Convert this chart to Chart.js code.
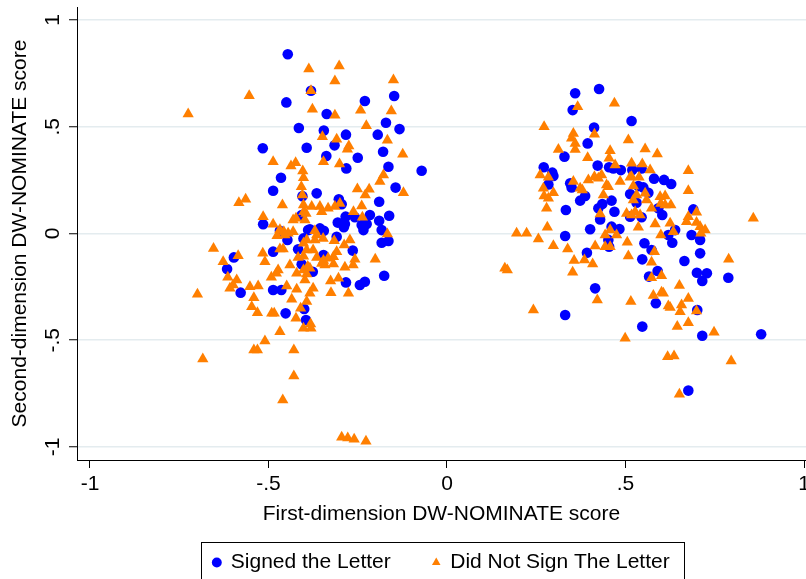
<!DOCTYPE html>
<html><head><meta charset="utf-8">
<script src="https://cdn.jsdelivr.net/npm/chart.js@4"></script>
<style>html,body{margin:0;padding:0;background:#fff}canvas{display:block}</style>
</head><body>
<canvas id="c" width="806" height="579"></canvas>
<script>
const xTickValues = [-1, -0.5, 0, 0.5, 1];
const xTickLabels = ['-1', '-.5', '0', '.5', '1'];
const yTickValues = [-1, -0.5, 0, 0.5, 1];
const yTickLabels = ['-1', '-.5', '0', '.5', '1'];
const seriesNames = ['Signed the Letter', 'Did Not Sign The Letter'];
const xTitle = 'First-dimension DW-NOMINATE score';
const yTitle = 'Second-dimension DW-NOMINATE score';

const signedX = [-0.446,-0.381,-0.450,-0.415,-0.516,-0.393,-0.465,-0.230,-0.148,-0.337,-0.171,-0.345,-0.283,-0.194,-0.133,-0.315,-0.179,-0.338,-0.250,-0.282,-0.164,-0.071,-0.487,-0.407,-0.515,-0.468,-0.447,-0.402,-0.389,-0.597,-0.487,-0.417,-0.616,-0.407,-0.578,-0.487,-0.464,-0.452,-0.400,-0.395,-0.144,-0.365,-0.405,-0.303,-0.295,-0.190,-0.284,-0.258,-0.216,-0.190,-0.162,-0.306,-0.286,-0.289,-0.239,-0.234,-0.225,-0.183,-0.384,-0.356,-0.345,-0.309,-0.183,-0.164,-0.264,-0.346,-0.376,-0.176,-0.283,-0.244,-0.230,
0.359,0.426,0.352,0.517,0.412,0.394,0.329,0.271,0.295,0.298,0.422,0.454,0.487,0.466,0.519,0.284,0.345,0.349,0.387,0.373,0.461,0.435,0.424,0.333,0.469,0.429,0.513,0.401,0.461,0.483,0.331,0.545,0.580,0.608,0.628,0.536,0.550,0.564,0.513,0.531,0.592,0.603,0.545,0.690,0.639,0.685,0.620,0.452,0.454,0.392,0.415,0.331,0.631,0.709,0.553,0.573,0.547,0.665,0.709,0.590,0.566,0.700,0.728,0.715,0.788,0.585,0.701,0.547,0.715,0.880,0.676];
const signedY = [0.840,0.669,0.614,0.494,0.399,0.402,0.261,0.621,0.644,0.560,0.519,0.482,0.463,0.463,0.489,0.413,0.383,0.363,0.355,0.305,0.313,0.294,0.200,0.087,0.043,0.013,-0.030,-0.023,0.016,-0.112,-0.085,-0.074,-0.166,-0.144,-0.277,-0.265,-0.265,-0.374,-0.354,-0.405,0.215,0.188,0.175,0.160,0.137,0.149,0.079,0.076,0.087,0.060,0.083,0.051,0.044,0.029,0.040,0.016,0.044,0.016,0.020,0.024,0.013,-0.015,-0.043,-0.035,-0.080,-0.101,-0.179,-0.198,-0.229,-0.241,-0.226,
0.657,0.677,0.578,0.527,0.496,0.422,0.360,0.310,0.285,0.269,0.318,0.310,0.297,0.305,0.297,0.230,0.235,0.216,0.176,0.154,0.154,0.138,0.118,0.110,0.102,0.066,0.079,0.020,0.032,0.021,-0.012,0.305,0.257,0.251,0.232,0.222,0.216,0.191,0.185,0.144,0.118,0.087,0.076,0.113,0.016,-0.007,-0.007,-0.030,-0.062,-0.090,-0.257,-0.382,-0.043,-0.030,-0.046,-0.077,-0.121,-0.129,-0.093,-0.176,-0.202,-0.184,-0.186,-0.222,-0.207,-0.327,-0.358,-0.436,-0.479,-0.472,-0.736];

const notSignedX = [-0.387,-0.554,-0.725,-0.487,-0.437,-0.424,-0.404,-0.402,-0.381,-0.377,-0.302,-0.314,-0.150,-0.314,-0.242,-0.156,-0.226,-0.349,-0.309,-0.167,-0.275,-0.279,-0.124,-0.346,-0.301,-0.178,-0.408,-0.405,-0.583,-0.564,-0.461,-0.402,-0.401,-0.515,-0.487,-0.431,-0.423,-0.398,-0.468,-0.457,-0.445,-0.476,-0.454,-0.431,-0.654,-0.585,-0.516,-0.468,-0.459,-0.402,-0.393,-0.627,-0.510,-0.417,-0.402,-0.440,-0.473,-0.478,-0.492,-0.421,-0.402,-0.390,-0.614,-0.589,-0.449,-0.398,-0.608,-0.599,-0.552,-0.529,-0.421,-0.699,-0.541,-0.435,-0.547,-0.393,-0.531,-0.491,-0.484,-0.410,-0.423,-0.382,-0.402,-0.381,-0.468,-0.510,-0.541,-0.531,-0.429,-0.684,-0.429,-0.460,-0.295,-0.278,-0.260,-0.227,-0.188,-0.122,-0.251,-0.218,-0.229,-0.300,-0.314,-0.239,-0.379,-0.356,-0.333,-0.351,-0.395,-0.262,-0.237,-0.167,-0.370,-0.365,-0.347,-0.370,-0.393,-0.316,-0.288,-0.272,-0.375,-0.309,-0.318,-0.333,-0.346,-0.365,-0.258,-0.263,-0.201,-0.286,-0.342,-0.318,-0.351,-0.384,-0.393,-0.326,-0.304,-0.325,-0.276,-0.375,-0.384,
0.366,0.469,0.272,0.413,0.354,0.349,0.359,0.359,0.508,0.312,0.394,0.457,0.454,0.471,0.517,0.261,0.284,0.270,0.272,0.298,0.284,0.279,0.354,0.373,0.379,0.396,0.413,0.424,0.433,0.447,0.452,0.485,0.517,0.438,0.429,0.503,0.281,0.195,0.223,0.256,0.443,0.457,0.475,0.555,0.589,0.547,0.569,0.676,0.513,0.538,0.522,0.676,0.531,0.555,0.522,0.559,0.597,0.611,0.599,0.611,0.627,0.573,0.527,0.541,0.517,0.699,0.676,0.671,0.858,0.583,0.625,0.536,0.699,0.709,0.723,0.634,0.711,0.599,0.298,0.338,0.415,0.443,0.457,0.505,0.356,0.385,0.408,0.508,0.162,0.169,0.352,0.421,0.515,0.242,0.499,0.581,0.573,0.789,0.601,0.573,0.651,0.578,0.601,0.606,0.620,0.625,0.676,0.657,0.653,0.699,0.645,0.676,0.748,0.618,0.636,0.796,0.651];
const notSignedY = [0.770,0.645,0.560,0.336,0.316,0.332,0.293,0.261,0.669,0.582,0.785,0.714,0.719,0.554,0.577,0.574,0.505,0.453,0.441,0.437,0.410,0.395,0.371,0.336,0.326,0.274,0.219,0.180,0.144,0.160,0.133,0.133,0.102,0.079,0.043,0.063,0.071,0.063,0.018,0.008,0.001,-0.011,-0.007,0.008,-0.070,-0.104,-0.093,-0.073,-0.073,-0.046,-0.077,-0.132,-0.132,-0.112,-0.106,-0.148,-0.171,-0.186,-0.205,-0.186,-0.171,-0.155,-0.205,-0.218,-0.246,-0.218,-0.257,-0.241,-0.249,-0.246,-0.261,-0.285,-0.301,-0.308,-0.343,-0.319,-0.371,-0.374,-0.374,-0.350,-0.397,-0.424,-0.444,-0.444,-0.460,-0.503,-0.546,-0.546,-0.546,-0.588,-0.667,-0.780,-0.955,-0.958,-0.964,-0.973,0.243,0.191,0.208,0.207,0.180,0.141,0.126,0.129,0.126,0.126,0.118,0.102,0.094,0.102,0.076,-0.002,0.013,-0.007,-0.023,-0.030,-0.030,-0.034,-0.054,-0.030,-0.077,-0.085,-0.109,-0.116,-0.127,-0.112,-0.121,-0.148,-0.121,-0.158,-0.148,-0.143,-0.140,-0.163,-0.190,-0.222,-0.210,-0.277,-0.280,-0.257,-0.280,
0.594,0.610,0.500,0.465,0.469,0.446,0.422,0.394,0.438,0.394,0.355,0.388,0.352,0.321,0.329,0.274,0.263,0.212,0.176,0.191,0.165,0.118,0.243,0.212,0.204,0.251,0.266,0.259,0.274,0.227,0.219,0.243,0.266,0.180,0.091,0.094,0.029,0.001,0.001,-0.026,-0.007,0.016,-0.007,0.396,0.372,0.326,0.297,0.294,0.263,0.263,0.222,0.200,0.180,0.188,0.157,0.157,0.172,0.176,0.141,0.133,0.133,0.118,0.102,0.087,0.087,0.099,0.079,0.055,0.071,0.044,0.048,0.029,0.051,0.032,0.016,0.008,0.001,-0.007,-0.057,-0.073,-0.058,-0.062,-0.062,-0.041,-0.127,-0.124,-0.143,-0.105,-0.163,-0.171,-0.182,-0.311,-0.319,-0.358,-0.491,-0.085,-0.135,-0.121,-0.198,-0.207,-0.244,-0.291,-0.275,-0.280,-0.340,-0.347,-0.304,-0.335,-0.366,-0.363,-0.436,-0.418,-0.463,-0.577,-0.574,-0.597,-0.753];

const xMin = -1.0364, xMax = 1.0056, yMin = -1.061, yMax = 1.061;
const toPoints = (xs, ys) => xs.map((x, i) => ({x: x, y: ys[i]}));

Chart.defaults.font.family = "'Liberation Sans', Arial, Helvetica, sans-serif";
Chart.defaults.font.size = 21;
Chart.defaults.color = '#000';

const legendFrame = {
  id: 'legendFrame',
  afterDraw(chart) {
    const lg = chart.legend;
    if (!lg || !lg.legendHitBoxes || !lg.legendHitBoxes.length) return;
    const hb = lg.legendHitBoxes;
    const first = hb[0], last = hb[hb.length - 1];
    const l = Math.round(first.left - 12) + 0.5;
    const r = Math.round(last.left + last.width + 14) + 0.5;
    const t = Math.round(first.top - 10) + 0.5;
    const b = Math.round(first.top + first.height + 7) + 0.5;
    const ctx = chart.ctx;
    ctx.save();
    ctx.strokeStyle = '#000';
    ctx.lineWidth = 1;
    ctx.strokeRect(l, t, r - l, b - t);
    ctx.restore();
  }
};

new Chart(document.getElementById('c'), {
  type: 'scatter',
  data: {
    datasets: [
      {
        label: seriesNames[0],
        data: toPoints(signedX, signedY),
        pointStyle: 'circle',
        pointRadius: 5.3,
        backgroundColor: '#0000FF',
        borderColor: '#0000FF',
        borderWidth: 0,
        order: 2
      },
      {
        label: seriesNames[1],
        data: toPoints(notSignedX, notSignedY),
        pointStyle: 'triangle',
        pointRadius: 6.5,
        backgroundColor: '#FF7F00',
        borderColor: '#FF7F00',
        borderWidth: 0,
        order: 1
      }
    ]
  },
  options: {
    responsive: false,
    devicePixelRatio: 1,
    animation: false,
    layout: { autoPadding: false, padding: { top: 7, left: 0, right: 0, bottom: 0 } },
    plugins: {
      tooltip: { enabled: false },
      legend: {
        position: 'bottom',
        fullSize: false,
        maxHeight: 69,
        labels: {
          usePointStyle: true,
          boxWidth: 7,
          boxHeight: 7,
          padding: 42,
          color: '#000',
          font: { size: 21 },
          sort: (a, b) => a.datasetIndex - b.datasetIndex
        }
      }
    },
    scales: {
      x: {
        type: 'linear',
        position: 'bottom',
        min: xMin,
        max: xMax,
        afterBuildTicks: s => { s.ticks = xTickValues.map(v => ({ value: v })); },
        afterFit: s => { s.height = 50; s.paddingLeft = 0; s.paddingRight = 0; },
        ticks: {
          callback: (v, i) => xTickLabels[i],
          padding: 4,
          maxRotation: 0,
          autoSkip: false,
          color: '#000',
          font: { size: 21 }
        },
        grid: { drawOnChartArea: false, drawTicks: true, tickLength: 8, tickColor: '#000', tickWidth: 1 },
        border: { display: true, color: '#000', width: 1 },
        title: { display: true, text: xTitle, color: '#000', font: { size: 21 }, padding: { top: 0, bottom: -16.6 } }
      },
      y: {
        type: 'linear',
        position: 'left',
        min: yMin,
        max: yMax,
        afterBuildTicks: s => { s.ticks = yTickValues.map(v => ({ value: v })); },
        afterFit: s => { s.width = 77; s.paddingTop = 0; s.paddingBottom = 0; },
        ticks: {
          callback: (v, i) => yTickLabels[i],
          minRotation: 90,
          maxRotation: 90,
          crossAlign: 'center',
          padding: 4,
          autoSkip: false,
          color: '#000',
          font: { size: 21 }
        },
        grid: { color: '#E4ECEF', lineWidth: 1.5, drawTicks: true, tickLength: 8, tickColor: '#000', tickWidth: 1 },
        border: { display: true, color: '#000', width: 1 },
        title: { display: true, text: yTitle, color: '#000', font: { size: 21 }, padding: { top: 7.4, bottom: 0 } }
      }
    }
  },
  plugins: [legendFrame]
});
</script>
</body></html>
